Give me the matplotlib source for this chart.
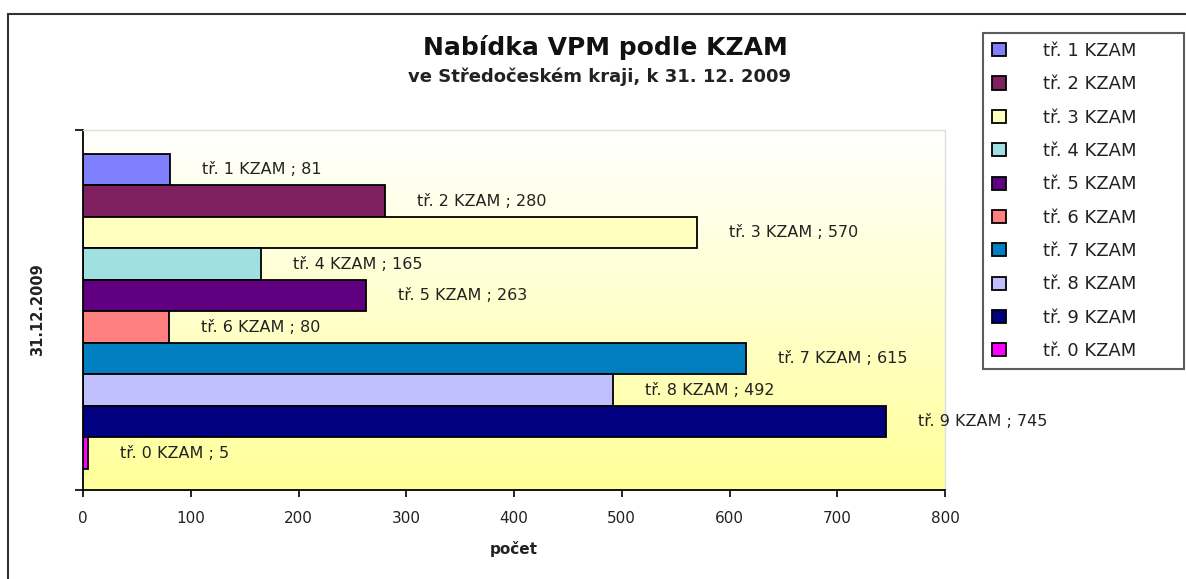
import numpy as np
import matplotlib
matplotlib.use("Agg")
import matplotlib.pyplot as plt
from matplotlib.patches import Rectangle
from matplotlib.colors import LinearSegmentedColormap

plt.rcParams['font.family'] = ['DejaVu Sans']

categories = ["tř. 1 KZAM", "tř. 2 KZAM", "tř. 3 KZAM", "tř. 4 KZAM", "tř. 5 KZAM",
              "tř. 6 KZAM", "tř. 7 KZAM", "tř. 8 KZAM", "tř. 9 KZAM", "tř. 0 KZAM"]
values = [81, 280, 570, 165, 263, 80, 615, 492, 745, 5]
colors = ["#8080FF", "#802060", "#FFFFC0", "#A0E0E0", "#600080",
          "#FF8080", "#0080C0", "#C0C0FF", "#000080", "#FF00FF"]
xticks = [0, 100, 200, 300, 400, 500, 600, 700, 800]
title = "Nabídka VPM podle KZAM"
subtitle = "ve Středočeském kraji, k 31. 12. 2009"
category_label = "31.12.2009"
x_label = "počet"

W, H = 1186, 579
fig = plt.figure(figsize=(W / 100, H / 100), dpi=100)
fig.patch.set_facecolor("white")

ax = fig.add_axes([83 / W, 1 - 490 / H, (945 - 83) / W, (490 - 130) / H])

ylo, yhi = 10.17, -1.26
grad = np.linspace(0, 1, 256).reshape(-1, 1)
cmap = LinearSegmentedColormap.from_list("bg", ["#FFFFFF", "#FFFF99"])
ax.imshow(grad, aspect="auto", cmap=cmap, extent=[0, 800, ylo, yhi],
          origin="upper", zorder=0)

pos = np.arange(len(values))
bars = ax.barh(pos, values, height=1.0, color=colors, edgecolor="black",
               linewidth=1.3, zorder=2)
for p, v, c in zip(pos, values, categories):
    ax.annotate(f"{c} ; {v}", xy=(v, p), xytext=(23, 0), textcoords="offset points",
                va="center", ha="left", fontsize=11.5, color="#222222", zorder=3)

ax.set_xlim(0, 800)
ax.set_ylim(ylo, yhi)
ax.set_xticks(xticks)
ax.set_xticklabels([str(t) for t in xticks], fontsize=11, color="#222222")
ax.tick_params(axis="x", direction="out", length=5, width=1.2, pad=10)
ax.set_yticks([ylo, yhi])
ax.set_yticklabels([])
ax.tick_params(axis="y", direction="out", length=6, width=1.2)

for s in ["top", "right"]:
    ax.spines[s].set_color("#DDDDDD")
    ax.spines[s].set_linewidth(1.0)
for s in ["left", "bottom"]:
    ax.spines[s].set_color("black")
    ax.spines[s].set_linewidth(1.3)

ax.set_ylabel(category_label, fontsize=10.5, fontweight="bold", color="#222222")
ax.yaxis.set_label_coords((45 - 83) / (945 - 83), 0.5)
ax.set_xlabel(x_label, fontsize=11, fontweight="bold", color="#222222", va="center")
ax.xaxis.set_label_coords(0.5, -(549 - 490) / (490 - 130))

fig.text(605 / W, 1 - 47 / H, title, ha="center", va="center",
         fontsize=18, fontweight="bold", color="#111111")
fig.text(600 / W, 1 - 77 / H, subtitle, ha="center", va="center",
         fontsize=13, fontweight="bold", color="#222222")

fig.patches.append(Rectangle((8 / W, -0.2), 1.3, 1 - 14 / H + 0.2,
                             transform=fig.transFigure, fill=False,
                             edgecolor="#333333", linewidth=1.5))

leg = fig.legend(bars, categories, loc="upper left",
                 bbox_to_anchor=(983 / W, 1 - 33 / H, (1184 - 983) / W, 0.0),
                 mode="expand", borderaxespad=0,
                 fontsize=13, frameon=True, fancybox=False,
                 handlelength=0.75, handleheight=0.75, handletextpad=2.1,
                 labelspacing=0.85, borderpad=0.5)
leg.get_frame().set_edgecolor("#333333")
leg.get_frame().set_linewidth(1.5)
for t in leg.get_texts():
    t.set_color("#222222")

fig.savefig("out.png", dpi=100)
